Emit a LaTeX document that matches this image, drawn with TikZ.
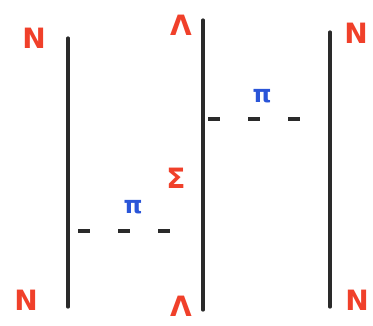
\documentclass[tikz,border=0pt]{standalone}
\usepackage{fontspec}
\setmainfont{DejaVu Sans}
\usetikzlibrary{positioning}
\definecolor{SketchRed}{HTML}{F0402A}
\definecolor{SketchBlue}{HTML}{2A55D8}
\definecolor{SketchInk}{HTML}{2A2A2A}
\begin{document}
\begin{tikzpicture}[x=1pt,y=-1pt,
    baryon/.style={text=SketchRed,font=\fontsize{28}{30}\selectfont\bfseries,inner sep=0pt},
    meson/.style={text=SketchBlue,font=\fontsize{24}{26}\selectfont\bfseries,inner sep=0pt},
    line/.style={draw=SketchInk,line width=3.2pt,line cap=round},
    exch/.style={draw=SketchInk,line width=3.2pt,dash pattern=on 12pt off 28pt}
  ]
    \useasboundingbox (0,0) rectangle (373,325);
    % particle lines
    \coordinate (a1) at (68,38);
    \coordinate (a2) at (68,307);
    \coordinate (b1) at (203,20);
    \coordinate (b2) at (203,310);
    \coordinate (c1) at (330,32);
    \coordinate (c2) at (330,307);
    \draw[line] (a1) -- (a2);
    \draw[line] (b1) -- (b2);
    \draw[line] (c1) -- (c2);
    % labels
    \node[baryon] (nTL) at (34,38) {N};
    \node[baryon] (nBL) at (26,300) {N};
    \node[baryon] (lamT) at (181,25) {Λ};
    \node[baryon] (lamB) at (181,306) {Λ};
    \node[baryon] (nTR) at (356,33) {N};
    \node[baryon] (nBR) at (357,300) {N};
    \node[baryon] (sig) at (176,178) {Σ};
    % exchanged pions
    \coordinate (p1) at (78,231);
    \coordinate (p2) at (173,231);
    \coordinate (q1) at (208,119);
    \coordinate (q2) at (303,119);
    \draw[exch] (p1) -- (p2);
    \draw[exch] (q1) -- (q2);
    \node[meson] (piL) at (133,207) {π};
    \node[meson] (piR) at (262,96) {π};
\end{tikzpicture}
\end{document}
